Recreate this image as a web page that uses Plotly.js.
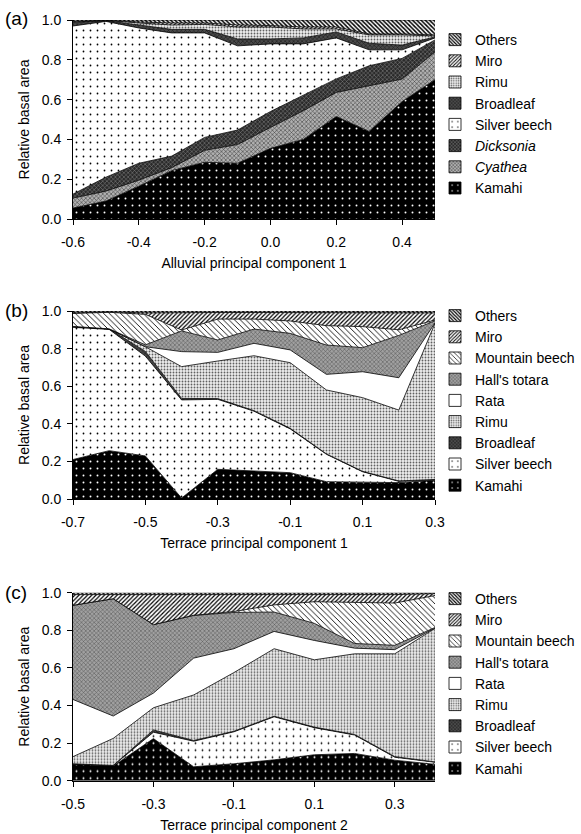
<!DOCTYPE html>
<html><head><meta charset="utf-8">
<script src="https://cdn.plot.ly/plotly-3.0.1.min.js"></script>
<style>html,body{margin:0;padding:0;background:#fff}#chart{width:581px;height:834px}</style>
</head><body><div id="chart"></div>
<script>
// ---------- DATA ----------
// Panel (a): Alluvial principal component 1
const xA = [-0.6, -0.5, -0.4, -0.3, -0.2, -0.1, 0.0, 0.1, 0.2, 0.3, 0.4, 0.5];
const aKamahi      = [0.055, 0.09, 0.165, 0.243, 0.285, 0.28, 0.355, 0.40, 0.515, 0.44, 0.59, 0.70];
const aCyathea     = [0.05, 0.05, 0.03, 0.015, 0.06, 0.094, 0.105, 0.144, 0.121, 0.23, 0.113, 0.14];
const aDicksonia   = [0.02, 0.07, 0.085, 0.058, 0.065, 0.073, 0.08, 0.079, 0.068, 0.10, 0.104, 0.06];
const aSilverBeech = [0.845, 0.783, 0.68, 0.619, 0.525, 0.423, 0.34, 0.257, 0.206, 0.08, 0.043, 0.01];
const aBroadleaf   = [0.018, 0.004, 0.015, 0.018, 0.018, 0.035, 0.025, 0.03, 0.03, 0.033, 0.024, 0.005];
const aRimu        = [0.002, 0.001, 0.01, 0.022, 0.025, 0.06, 0.06, 0.045, 0.015, 0.042, 0.051, 0.005];
const aMiro        = [0.003, 0.001, 0.005, 0.01, 0.007, 0.01, 0.007, 0.01, 0.01, 0.005, 0.005, 0.005];
const aOthers      = [0.007, 0.001, 0.01, 0.015, 0.015, 0.025, 0.028, 0.035, 0.035, 0.07, 0.07, 0.075];

// Panel (b): Terrace principal component 1
const xB = [-0.7, -0.6, -0.5, -0.4, -0.3, -0.2, -0.1, 0.0, 0.1, 0.2, 0.3];
const bKamahi        = [0.21, 0.257, 0.229, 0.005, 0.158, 0.149, 0.14, 0.092, 0.089, 0.087, 0.10];
const bSilverBeech   = [0.703, 0.645, 0.531, 0.522, 0.372, 0.318, 0.233, 0.146, 0.056, 0.007, 0.002];
const bBroadleaf     = [0.005, 0.003, 0.025, 0.008, 0.004, 0.003, 0.003, 0.002, 0.002, 0.002, 0.002];
const bRimu          = [0.0, 0.0, 0.025, 0.169, 0.20, 0.292, 0.349, 0.34, 0.392, 0.377, 0.831];
const bRata          = [0.0, 0.0, 0.0, 0.08, 0.046, 0.066, 0.068, 0.083, 0.138, 0.172, 0.002];
const bHallsTotara   = [0.0, 0.0, 0.01, 0.11, 0.066, 0.076, 0.088, 0.156, 0.128, 0.225, 0.011];
const bMountainBeech = [0.069, 0.088, 0.162, 0.005, 0.111, 0.053, 0.066, 0.103, 0.112, 0.03, 0.004];
const bMiro          = [0.003, 0.002, 0.008, 0.093, 0.035, 0.035, 0.045, 0.068, 0.073, 0.09, 0.038];
const bOthers        = [0.01, 0.005, 0.01, 0.008, 0.008, 0.008, 0.008, 0.01, 0.01, 0.01, 0.01];

// Panel (c): Terrace principal component 2
const xC = [-0.5, -0.4, -0.3, -0.2, -0.1, 0.0, 0.1, 0.2, 0.3, 0.4];
const cKamahi        = [0.087, 0.078, 0.224, 0.074, 0.09, 0.111, 0.138, 0.145, 0.109, 0.087];
const cSilverBeech   = [0.002, 0.002, 0.034, 0.136, 0.17, 0.229, 0.144, 0.098, 0.016, 0.011];
const cBroadleaf     = [0.001, 0.001, 0.012, 0.004, 0.003, 0.003, 0.003, 0.003, 0.003, 0.002];
const cRimu          = [0.038, 0.144, 0.118, 0.242, 0.312, 0.359, 0.358, 0.429, 0.547, 0.71];
const cRata          = [0.304, 0.119, 0.078, 0.196, 0.127, 0.092, 0.103, 0.03, 0.022, 0.002];
const cHallsTotara   = [0.501, 0.624, 0.364, 0.227, 0.193, 0.103, 0.091, 0.025, 0.023, 0.003];
const cMountainBeech = [0.0, 0.0, 0.0, 0.001, 0.005, 0.038, 0.115, 0.218, 0.225, 0.17];
const cMiro          = [0.057, 0.022, 0.16, 0.11, 0.09, 0.055, 0.038, 0.042, 0.045, 0.01];
const cOthers        = [0.01, 0.01, 0.01, 0.01, 0.01, 0.01, 0.01, 0.01, 0.01, 0.005];

const namesA = ['Kamahi', 'Cyathea', 'Dicksonia', 'Silver beech', 'Broadleaf', 'Rimu', 'Miro', 'Others'];
const namesBC = ['Kamahi', 'Silver beech', 'Broadleaf', 'Rimu', 'Rata', "Hall's totara", 'Mountain beech', 'Miro', 'Others'];

const xTickValsA = [-0.6, -0.4, -0.2, 0.0, 0.2, 0.4];
const xTickTextA = ['-0.6', '-0.4', '-0.2', '0.0', '0.2', '0.4'];
const xTickValsB = [-0.7, -0.5, -0.3, -0.1, 0.1, 0.3];
const xTickTextB = ['-0.7', '-0.5', '-0.3', '-0.1', '0.1', '0.3'];
const xTickValsC = [-0.5, -0.3, -0.1, 0.1, 0.3];
const xTickTextC = ['-0.5', '-0.3', '-0.1', '0.1', '0.3'];
const yTickVals = [0, 0.2, 0.4, 0.6, 0.8, 1.0];
const yTickText = ['0.0', '0.2', '0.4', '0.6', '0.8', '1.0'];

const xTitleA = 'Alluvial principal component 1';
const xTitleB = 'Terrace principal component 1';
const xTitleC = 'Terrace principal component 2';
const yTitle = 'Relative basal area';

// ---------- STYLES ----------
const sty = {
  'Kamahi':         {bg: '#000000', fg: '#ffffff', shape: '.', size: 7, sol: 0.06},
  'Cyathea':        {bg: '#b0b0b0', fg: '#404040', shape: 'x', size: 3, sol: 0.35},
  'Dicksonia':      {bg: '#2a2a2a', fg: '#8a8a8a', shape: 'x', size: 3, sol: 0.3},
  'Silver beech':   {bg: '#ffffff', fg: '#000000', shape: '.', size: 7, sol: 0.05},
  'Broadleaf':      {bg: '#4a4a4a', fg: '#1a1a1a', shape: 'x', size: 3, sol: 0.35},
  'Rimu':           {bg: '#eeeeee', fg: '#606060', shape: '.', size: 3, sol: 0.3},
  'Rata':           {bg: '#ffffff', fg: '#000000', shape: '', size: 4, sol: 0.1},
  "Hall's totara":  {bg: '#a0a0a0', fg: '#505050', shape: 'x', size: 3, sol: 0.3},
  'Mountain beech': {bg: '#ffffff', fg: '#000000', shape: '\\', size: 4, sol: 0.22},
  'Miro':           {bg: '#ffffff', fg: '#000000', shape: '/', size: 3, sol: 0.4},
  'Others':         {bg: '#ffffff', fg: '#000000', shape: '\\', size: 3, sol: 0.5}
};
const label = n => (n === 'Cyathea' || n === 'Dicksonia') ? '<i>' + n + '</i>' : n;

const W = 581, H = 834;
const FONT = 'Liberation Sans, Arial, sans-serif';
const traces = [];

function panel(x, series, names, ax, grp, legendId) {
  series.forEach((y, i) => {
    const s = sty[names[i]];
    const t = {
      type: 'scatter', mode: 'lines', x: x, y: y, name: label(names[i]),
      xaxis: 'x' + ax, yaxis: 'y' + ax, stackgroup: grp,
      line: {color: '#000', width: 0.8}, fillcolor: s.bg,
      fillpattern: {shape: s.shape, bgcolor: s.bg, fgcolor: s.fg, size: s.size, solidity: s.sol},
      showlegend: false, hoverinfo: 'skip'
    };
    if (i === 0) t.groupnorm = 'fraction';
    traces.push(t);
  });
  // legend entries (square swatches), listed top to bottom
  for (let i = names.length - 1; i >= 0; i--) {
    const s = sty[names[i]];
    traces.push({
      type: 'bar', x: [99], y: [0], name: label(names[i]),
      xaxis: 'x' + ax, yaxis: 'y' + ax, legend: legendId, showlegend: true,
      marker: {color: s.bg, line: {color: '#000', width: 0.8},
               pattern: {shape: s.shape, bgcolor: s.bg, fgcolor: s.fg, size: s.size, solidity: s.sol}},
      hoverinfo: 'skip'
    });
  }
}
panel(xA, [aKamahi, aCyathea, aDicksonia, aSilverBeech, aBroadleaf, aRimu, aMiro, aOthers], namesA, '', 'a', 'legend');
panel(xB, [bKamahi, bSilverBeech, bBroadleaf, bRimu, bRata, bHallsTotara, bMountainBeech, bMiro, bOthers], namesBC, '2', 'b', 'legend2');
panel(xC, [cKamahi, cSilverBeech, cBroadleaf, cRimu, cRata, cHallsTotara, cMountainBeech, cMiro, cOthers], namesBC, '3', 'c', 'legend3');

const xDom = [73 / W, 435 / W];
const yd = (top, bot) => [1 - bot / H, 1 - top / H];
const tickFont = {family: FONT, size: 14, color: '#000'};
function xax(range, tv, tt, title, anchor) {
  return {domain: xDom, range: range, type: 'linear', anchor: anchor, tickvals: tv, ticktext: tt,
    ticks: 'outside', ticklen: 5, tickcolor: '#000', showline: true, linecolor: '#000', linewidth: 1,
    showgrid: false, zeroline: false, tickfont: tickFont, ticklabelstandoff: 5,
    title: {text: title, font: {family: FONT, size: 14, color: '#000'}, standoff: 9}};
}
function yax(dom, anchor) {
  return {domain: dom, range: [0, 1], anchor: anchor, tickvals: yTickVals, ticktext: yTickText,
    ticks: 'outside', ticklen: 5, tickcolor: '#000', showline: true, linecolor: '#000', linewidth: 1,
    showgrid: false, zeroline: false, tickfont: tickFont, ticklabelstandoff: 3,
    title: {text: yTitle, font: {family: FONT, size: 14, color: '#000'}, standoff: 8}};
}
const legFont = {family: FONT, size: 14, color: '#000'};
function leg(topPx) {
  return {x: 435 / W, xanchor: 'left', y: 1 - topPx / H, yanchor: 'top', font: legFont,
    bgcolor: 'rgba(0,0,0,0)', borderwidth: 0, traceorder: 'normal', tracegroupgap: 0};
}
const panelLabel = (txt, yPx) => ({text: txt, x: 3 / W, y: 1 - yPx / H, xref: 'paper', yref: 'paper',
  xanchor: 'left', yanchor: 'middle', showarrow: false, font: {family: FONT, size: 19, color: '#000'}});

const layout = {
  width: W, height: H, margin: {l: 0, r: 0, t: 0, b: 0},
  paper_bgcolor: '#fff', plot_bgcolor: '#fff', hovermode: false, showlegend: true,
  xaxis: xax([-0.6, 0.5], xTickValsA, xTickTextA, xTitleA, 'y'),
  yaxis: yax(yd(20, 219), 'x'),
  xaxis2: xax([-0.7, 0.3], xTickValsB, xTickTextB, xTitleB, 'y2'),
  yaxis2: yax(yd(311, 499), 'x2'),
  xaxis3: xax([-0.5, 0.4], xTickValsC, xTickTextC, xTitleC, 'y3'),
  yaxis3: yax(yd(592.7, 780.7), 'x3'),
  legend: leg(24), legend2: leg(300), legend3: leg(583),
  annotations: [panelLabel('(a)', 19), panelLabel('(b)', 310), panelLabel('(c)', 592)]
};
Plotly.newPlot('chart', traces, layout, {displayModeBar: false, staticPlot: true});
</script></body></html>
